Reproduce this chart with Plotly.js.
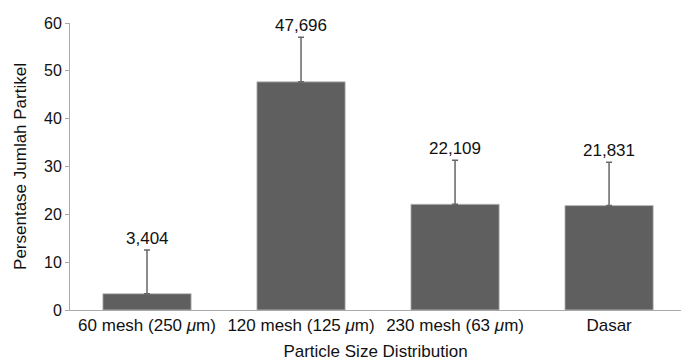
<!DOCTYPE html>
<html>
<head>
<meta charset="utf-8">
<script src="https://cdn.plot.ly/plotly-3.0.1.min.js"></script>
<style>html,body{margin:0;padding:0;background:#fff;}#chart{width:681px;height:361px;}</style>
</head>
<body>
<div id="chart"></div>
<script>
const categories = ["60 mesh (250 <i>μ</i>m)", "120 mesh (125 <i>μ</i>m)", "230 mesh (63 <i>μ</i>m)", "Dasar"];
const values = [3.404, 47.696, 22.109, 21.831];
const errors = [9.15, 9.35, 9.2, 9.07];
const labels = ["3,404", "47,696", "22,109", "21,831"];

const font = "Liberation Sans, Arial, Helvetica, sans-serif";

const trace = {
  type: "bar",
  x: categories,
  y: values,
  marker: {color: "#5f5f5f", line: {color: "#bdbdbd", width: 0.8}},
  error_y: {type: "data", array: errors, arrayminus: errors.map(() => 0), symmetric: false,
            color: "#666666", thickness: 1.5, width: 3},
  hoverinfo: "none"
};

const annotations = categories.map((c, i) => ({
  x: c, y: values[i] + errors[i], xref: "x", yref: "y",
  text: labels[i], showarrow: false, yanchor: "bottom", yshift: 0,
  font: {family: font, size: 17, color: "#111"}
}));

const layout = {
  width: 681, height: 361,
  margin: {l: 70, r: 0, t: 23, b: 51},
  paper_bgcolor: "#fff", plot_bgcolor: "#fff",
  showlegend: false,
  bargap: 0.427,
  font: {family: font, size: 17, color: "#111"},
  xaxis: {
    type: "category", range: [-0.5, 3.467],
    showline: true, linecolor: "#aaaaaa", linewidth: 1,
    ticks: "", showgrid: false, zeroline: false,
    tickfont: {family: font, size: 17, color: "#111"},
    title: {text: "Particle Size Distribution", font: {family: font, size: 17, color: "#111"}, standoff: 10}
  },
  yaxis: {
    range: [0, 60], dtick: 10,
    showline: true, linecolor: "#aaaaaa", linewidth: 1,
    ticks: "outside", ticklen: 4, tickcolor: "#aaaaaa",
    showgrid: false, zeroline: false,
    tickfont: {family: font, size: 16, color: "#111"},
    title: {text: "Persentase Jumlah Partikel", font: {family: font, size: 17, color: "#111"}, standoff: 13}
  },
  annotations: annotations
};

Plotly.newPlot("chart", [trace], layout, {displayModeBar: false, staticPlot: true});
</script>
</body>
</html>
